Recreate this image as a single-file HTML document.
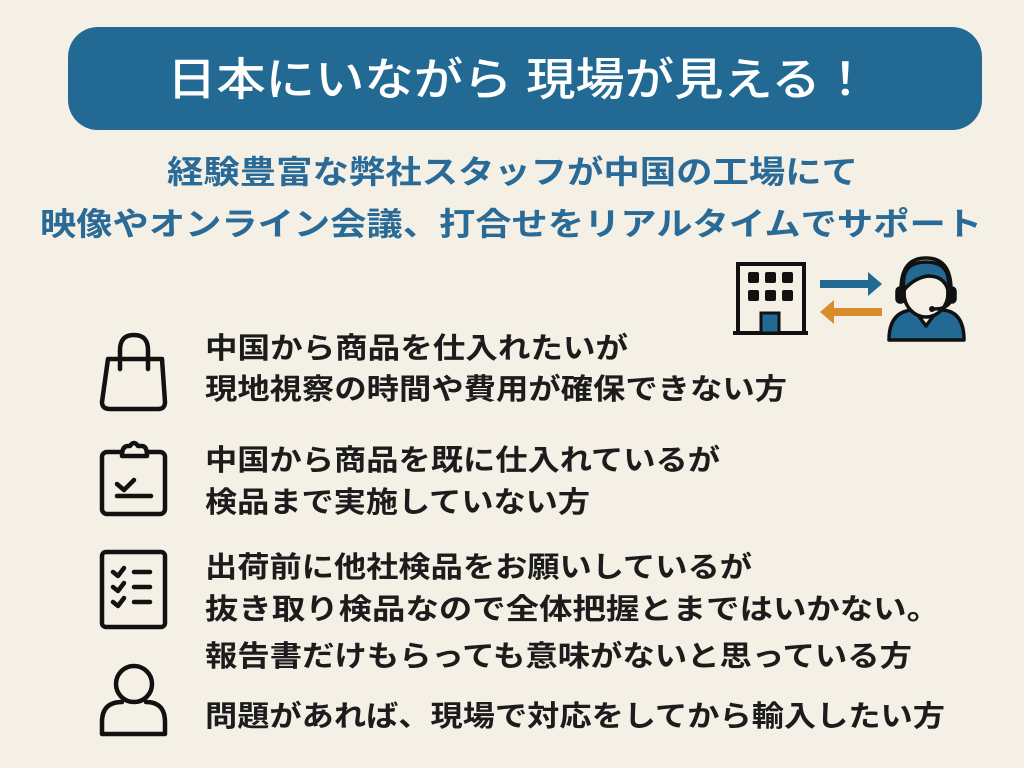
<!DOCTYPE html>
<html><head><meta charset="utf-8"><style>
html,body{margin:0;padding:0;background:#f4f0e6;}
svg{display:block}
text{font-family:"Liberation Sans","Noto Sans CJK JP",sans-serif;}
</style></head><body>
<svg width="1024" height="768" viewBox="0 0 1024 768" xmlns="http://www.w3.org/2000/svg">
<rect width="1024" height="768" fill="#f4f0e6"/>
<rect x="68" y="27" width="914" height="103" rx="30" fill="#226993"/>
<text x="167" y="95" font-size="45" font-weight="500" fill="#fff" textLength="703" lengthAdjust="spacingAndGlyphs">日本にいながら 現場が見える！</text>
<g fill="#2a6a96" font-weight="700">
<text x="167" y="183" font-size="32" textLength="691" lengthAdjust="spacingAndGlyphs">経験豊富な弊社スタッフが中国の工場にて</text>
<text x="40" y="235" font-size="32" textLength="942" lengthAdjust="spacingAndGlyphs">映像やオンライン会議、打合せをリアルタイムでサポート</text>
</g>
<g fill="#1c1c1c" font-size="29" font-weight="700">
<text x="205" y="358" textLength="423" lengthAdjust="spacingAndGlyphs">中国から商品を仕入れたいが</text>
<text x="205" y="399" textLength="582" lengthAdjust="spacingAndGlyphs">現地視察の時間や費用が確保できない方</text>
<text x="205" y="470" textLength="515" lengthAdjust="spacingAndGlyphs">中国から商品を既に仕入れているが</text>
<text x="205" y="512" textLength="385" lengthAdjust="spacingAndGlyphs">検品まで実施していない方</text>
<text x="205" y="577" textLength="547" lengthAdjust="spacingAndGlyphs">出荷前に他社検品をお願いしているが</text>
<text x="205" y="619" textLength="735" lengthAdjust="spacingAndGlyphs">抜き取り検品なので全体把握とまではいかない。</text>
<text x="205" y="666" textLength="707" lengthAdjust="spacingAndGlyphs">報告書だけもらっても意味がないと思っている方</text>
<text x="205" y="726" textLength="740" lengthAdjust="spacingAndGlyphs">問題があれば、現場で対応をしてから輸入したい方</text>
</g>
<!-- left icons -->
<g fill="none" stroke="#111" stroke-width="4.5" stroke-linecap="round" stroke-linejoin="round">
<path d="M108 359 L162 359 L165 402 Q165 409 158 409 L110 409 Q102 409 102 402 Z"/>
<path d="M120 369 V350 Q120 335 134 335 Q148 335 148 350 V369"/>
<rect x="102" y="452" width="63" height="62" rx="5"/>
<path d="M122 456 Q122 446 128 446 L130 446 Q134 440 138 446 L142 446 Q147 446 147 456 Z" fill="#f4f0e6"/>
<path d="M117 484 L124 490 L134 480"/>
<line x1="117" y1="496" x2="151" y2="496"/>
<rect x="102" y="552" width="63" height="75" rx="4"/>
<path d="M113 572 L118 576 L124 568 M113 587 L118 591 L124 583 M113 602 L118 606 L124 598"/>
<path d="M134 572 H150 M134 587 H150 M134 602 H150"/>
<circle cx="134" cy="684" r="18"/>
<path d="M102 734 V722 Q102 702 122 702 M146 702 Q165 702 165 722 V734 H102"/>
</g>
<!-- building -->
<g>
<path d="M738 333 V264 H804 V333" fill="none" stroke="#111" stroke-width="4"/>
<line x1="733" y1="333" x2="808" y2="333" stroke="#111" stroke-width="4"/>
<g fill="#111">
<rect x="748" y="272" width="11" height="11" rx="2"/><rect x="765" y="272" width="11" height="11" rx="2"/><rect x="782" y="272" width="11" height="11" rx="2"/>
<rect x="748" y="290" width="11" height="11" rx="2"/><rect x="765" y="290" width="11" height="11" rx="2"/><rect x="782" y="290" width="11" height="11" rx="2"/>
</g>
<rect x="761" y="313" width="18" height="20" fill="#226993" stroke="#111" stroke-width="3"/>
</g>
<path d="M820 280 H868 V272 L882 284 L868 296 V288 H820 Z" fill="#226993"/>
<path d="M882 308 H834 V300 L820 312 L834 324 V316 H882 Z" fill="#d98c2b"/>
<!-- agent -->
<g stroke="#111" stroke-width="3.5" stroke-linejoin="round">
<path d="M889 340 Q889 312 912 310 L943 310 Q964 312 964 340 Z" fill="#226993"/>
<path d="M915 311 L926 326 L937 311 Z" fill="#f4f0e6"/>
<ellipse cx="926" cy="293" rx="22" ry="24" fill="#f4f0e6"/>
<path d="M904 290 Q900 262 926 262 Q952 262 948 290 Q944 276 928 276 Q914 278 904 290 Z" fill="#226993"/>
<path d="M901 300 V290 Q901 258 926 258 Q951 258 951 290 V300" fill="none"/>
<rect x="897" y="288" width="7" height="14" rx="3" fill="#111"/>
<rect x="948" y="288" width="7" height="14" rx="3" fill="#111"/>
<path d="M951 300 Q948 309 934 309" fill="none"/>
</g>
<circle cx="932" cy="309" r="3" fill="#111"/>
</svg>
</body></html>
